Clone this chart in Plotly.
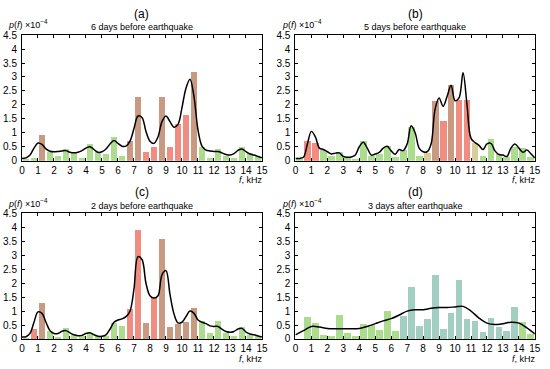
import plotly.graph_objects as go

# ---------------- data ----------------
bin_left = [i * 0.5 for i in range(30)]
bin_centers = [b + 0.25 for b in bin_left]

bars_a = [0.05, 0.10, 0.93, 0.30, 0.18, 0.43, 0.30, 0.10, 0.61, 0.30, 0.23, 0.86, 0.17, 0.70, 2.27,
          0.30, 0.50, 2.30, 0.50, 1.33, 1.64, 3.17, 0.49, 0.10, 0.43, 0.16, 0.10, 0.50, 0.28, 0.14]
bars_b = [0.05, 0.69, 0.63, 0.40, 0.17, 0.31, 0.09, 0.06, 0.69, 0.17, 0.23, 0.52, 0.14, 0.40, 1.21,
          0.17, 0.29, 2.13, 1.41, 2.71, 2.19, 2.19, 0.63, 0.17, 0.77, 0.25, 0.12, 0.50, 0.44, 0.12]
bars_c = [0.05, 0.37, 1.28, 0.29, 0.07, 0.41, 0.15, 0.10, 0.23, 0.10, 0.10, 0.58, 0.47, 1.07, 3.90,
          0.58, 1.51, 3.60, 0.44, 0.52, 0.62, 1.10, 0.64, 0.20, 0.63, 0.23, 0.12, 0.44, 0.15, 0.10]
bars_d = [0.00, 0.79, 0.58, 0.16, 0.09, 0.85, 0.22, 0.12, 0.55, 0.50, 0.33, 0.99, 0.27, 0.81, 1.86,
          0.47, 0.70, 2.30, 0.37, 0.95, 2.13, 0.70, 0.64, 0.26, 0.76, 0.44, 0.27, 1.13, 0.62, 0.17]

curve_x = [i * 0.25 for i in range(61)]
curve_a = [0.08, 0.10, 0.20, 0.45, 0.63, 0.58, 0.42, 0.34, 0.32, 0.33, 0.35, 0.36, 0.30, 0.28, 0.30, 0.36,
           0.45, 0.50, 0.40, 0.30, 0.32, 0.42, 0.60, 0.72, 0.62, 0.52, 0.52, 0.70, 1.15, 1.60, 1.55,
           1.05, 0.70, 0.62, 0.85, 1.40, 1.60, 1.40, 1.20, 1.30, 1.90, 2.60, 2.92, 2.30, 1.10, 0.52,
           0.38, 0.35, 0.33, 0.33, 0.28, 0.22, 0.20, 0.25, 0.37, 0.42, 0.32, 0.24, 0.20, 0.15, 0.10]
curve_b = [0.08, 0.08, 0.12, 0.60, 1.05, 0.85, 0.45, 0.40, 0.32, 0.24, 0.27, 0.28, 0.15, 0.12, 0.13, 0.20,
           0.50, 0.66, 0.45, 0.20, 0.24, 0.30, 0.45, 0.52, 0.35, 0.23, 0.40, 0.36, 0.60, 1.25, 1.00,
           0.45, 0.32, 0.32, 0.60, 1.85, 2.25, 1.95, 2.30, 2.70, 2.15, 2.25, 3.15, 2.00, 0.80, 0.65,
           0.55, 0.40, 0.60, 0.62, 0.35, 0.22, 0.20, 0.15, 0.45, 0.60, 0.45, 0.30, 0.38, 0.25, 0.10]
curve_c = [0.07, 0.08, 0.20, 0.60, 0.97, 0.92, 0.60, 0.30, 0.20, 0.20, 0.28, 0.30, 0.22, 0.15, 0.12, 0.13,
           0.20, 0.22, 0.15, 0.10, 0.10, 0.15, 0.35, 0.60, 0.68, 0.72, 0.80, 1.00, 1.80, 2.95, 2.85,
           2.00, 1.55, 1.47, 1.55, 2.30, 2.45, 1.60, 0.90, 0.58, 0.60, 0.80, 1.00, 0.92, 0.68, 0.60,
           0.55, 0.47, 0.45, 0.45, 0.35, 0.27, 0.24, 0.27, 0.36, 0.38, 0.25, 0.18, 0.15, 0.11, 0.07]
curve_d_x = [i * 0.5 for i in range(31)]
curve_d = [0.15, 0.30, 0.45, 0.43, 0.38, 0.37, 0.37, 0.37, 0.38, 0.45, 0.55, 0.65, 0.73, 0.86, 1.00,
           1.05, 1.05, 1.10, 1.13, 1.13, 1.15, 1.17, 1.00, 0.75, 0.57, 0.52, 0.55, 0.60, 0.57, 0.40, 0.18]

x_ticks = list(range(16))
y_ticks = [0, 0.5, 1, 1.5, 2, 2.5, 3, 3.5, 4, 4.5]
y_tick_text = ["0", "0.5", "1", "1.5", "2", "2.5", "3", "3.5", "4", "4.5"]

panel_letters = ["(a)", "(b)", "(c)", "(d)"]
panel_titles = ["6 days before earthquake", "5 days before earthquake",
                "2 days before earthquake", "3 days after earthquake"]

# ---------------- style ----------------
COL = {"G": "#acdc8e", "R": "#f08c80", "B": "#c99a82", "Y": "#d8cc9a", "T": "#a2cfc2"}
keys_a = "GGBGGGGGGGGGGBBRRBRRRBGGGGGGGG"
keys_b = "GRRGGGGGGGGGGGGGYBRBRRYGGGGGGG"
keys_c = "GRBGGGGGGGGGGRRBRBBBBBGGGGGGGG"
keys_d = "GGGGGGGGGGGGGTTTTTTTTTTTTTTTGG"

font_family = "Liberation Sans, Arial, sans-serif"
W, H = 550, 369
xdom = [[19.3 / W, 263.3 / W], [297.3 / W, 540.7 / W]]
ydom = [[1 - 160 / H, 1 - 31 / H], [1 - 343.3 / H, 1 - 214.3 / H]]

fig = go.Figure()
panels = [(bars_a, keys_a, curve_x, curve_a), (bars_b, keys_b, curve_x, curve_b),
          (bars_c, keys_c, curve_x, curve_c), (bars_d, keys_d, curve_d_x, curve_d)]

annotations = []
for i, (bars, keys, cx, cy) in enumerate(panels):
    n = i + 1
    xa = "x" if n == 1 else f"x{n}"
    ya = "y" if n == 1 else f"y{n}"
    fig.add_trace(go.Bar(x=bin_centers, y=bars, width=0.43,
                         marker=dict(color=[COL[k] for k in keys], line=dict(width=0)),
                         xaxis=xa, yaxis=ya, showlegend=False, hoverinfo="skip"))
    fig.add_trace(go.Scatter(x=cx, y=cy, mode="lines",
                             line=dict(color="black", width=1.5, shape="spline", smoothing=1.0),
                             xaxis=xa, yaxis=ya, showlegend=False, hoverinfo="skip"))
    xd = xdom[i % 2]
    yd = ydom[i // 2]
    axstyle = dict(showline=True, linecolor="black", linewidth=1, mirror="ticks",
                   ticks="inside", ticklen=3, tickcolor="black", tickwidth=1,
                   showgrid=False, zeroline=False,
                   tickfont=dict(size=10, color="black", family=font_family))
    fig.update_layout(**{
        ("xaxis" if n == 1 else f"xaxis{n}"): dict(domain=xd, range=[0, 15], tickvals=x_ticks,
                                                    anchor=ya, **axstyle),
        ("yaxis" if n == 1 else f"yaxis{n}"): dict(domain=yd, range=[0, 4.5], tickvals=y_ticks,
                                                    ticktext=y_tick_text, anchor=xa, ticklabelstandoff=2,
                                                    **axstyle),
    })
    xmid = (xd[0] + xd[1]) / 2
    ytop = yd[1]
    annotations.append(dict(text=panel_letters[i], x=xmid, y=ytop + 22 / H, xref="paper", yref="paper",
                            showarrow=False, xanchor="center", yanchor="middle",
                            font=dict(size=12, color="black", family=font_family)))
    annotations.append(dict(text=panel_titles[i], x=xmid, y=ytop + 8 / H, xref="paper", yref="paper",
                            showarrow=False, xanchor="center", yanchor="middle",
                            font=dict(size=9, color="black", family=font_family)))
    annotations.append(dict(text="<i>p</i>(<i>f</i>) ×10<sup>−4</sup>", x=xd[0] - 16 / W, y=ytop + 3 / H,
                            xref="paper", yref="paper", showarrow=False, xanchor="left", yanchor="bottom",
                            font=dict(size=9, color="black", family=font_family)))
    annotations.append(dict(text="<i>f</i>, kHz", x=xd[1] + 3 / W, y=yd[0] - 13 / H,
                            xref="paper", yref="paper", showarrow=False, xanchor="right", yanchor="top",
                            font=dict(size=9, color="black", family=font_family)))

fig.update_layout(width=W, height=H, autosize=False, margin=dict(l=0, r=0, t=0, b=0),
                  paper_bgcolor="white", plot_bgcolor="white", bargap=0, hovermode=False,
                  annotations=annotations, font=dict(family=font_family))
fig.write_html("out.html", config={"displayModeBar": False, "staticPlot": True},
               post_script="document.body.style.margin='0';document.body.style.padding='0';"
                           "document.body.style.overflow='hidden';")
